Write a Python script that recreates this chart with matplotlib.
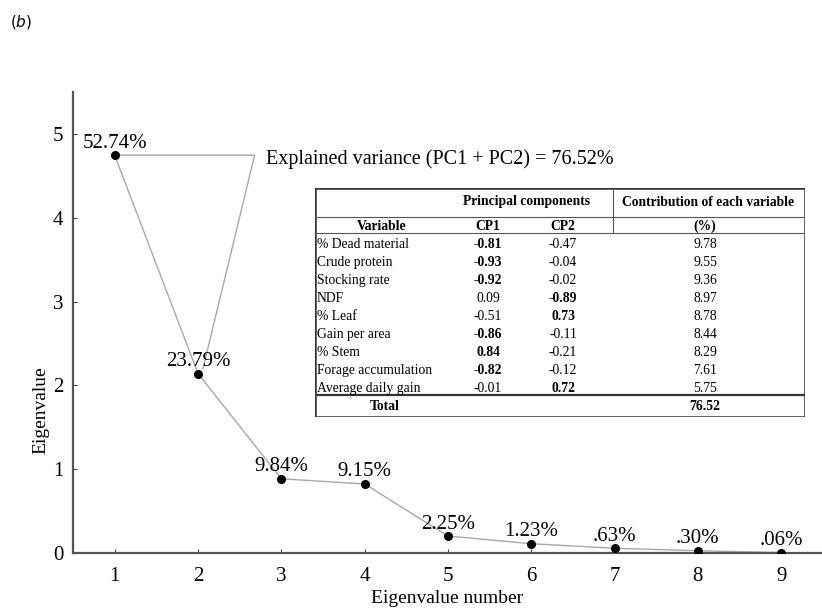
import numpy as np
import matplotlib.pyplot as plt

plt.rcParams['font.family'] = ['Liberation Serif', 'DejaVu Serif']

# scree data: explained variance (%) per principal component
components = [1, 2, 3, 4, 5, 6, 7, 8, 9]
variance_pct = [52.74, 23.79, 9.84, 9.15, 2.25, 1.23, 0.63, 0.30, 0.06]
pct_labels = ['52.74%', '23.79%', '9.84%', '9.15%', '2.25%', '1.23%', '.63%', '.30%', '.06%']
n_vars = 9
eigen = np.array(variance_pct) * n_vars / 100

# loadings table
variables = ['% Dead material', 'Crude protein', 'Stocking rate', 'NDF', '% Leaf',
             'Gain per area', '% Stem', 'Forage accumulation', 'Average daily gain']
cp1 = [-0.81, -0.93, -0.92, 0.09, -0.51, -0.86, 0.84, -0.82, -0.01]
cp2 = [-0.47, -0.04, -0.02, -0.89, 0.73, -0.11, -0.21, -0.12, 0.72]
contrib = [9.78, 9.55, 9.36, 8.97, 8.78, 8.44, 8.29, 7.61, 5.75]
total = 76.52

fig = plt.figure(figsize=(8.22, 6.11), dpi=100)
ax = fig.add_axes([73/822, 58/611, (822-73)/822, (553-92)/611])

line_c = '#a8a8a8'
ax.plot(components, eigen, color=line_c, lw=1.0, zorder=2)
ax.plot(components, eigen, 'o', color='black', ms=5.5, zorder=3)
for x, y, s in zip(components, eigen, pct_labels):
    ax.text(x, y + 0.03, s, ha='center', va='bottom', fontsize=15)

# bracket for PC1 + PC2
ax.plot([components[0], 2.68, 2.06], [eigen[0], eigen[0], 2.2], color=line_c, lw=1.0, zorder=2)
ax.text(2.82, eigen[0] - 0.05, 'Explained variance (PC1 + PC2) = %.2f%%' % total,
        ha='left', va='center', fontsize=14.5)

ax.set_xlim(0.5, 9.49)
ax.set_ylim(0, 5.5)
ax.set_xticks(components)
ax.set_yticks([0, 1, 2, 3, 4, 5])
ax.tick_params(direction='in', length=3, labelsize=15, color='#444444')
ax.tick_params(axis='x', pad=10)
ax.tick_params(axis='y', pad=7)
for side in ['top', 'right']:
    ax.spines[side].set_visible(False)
for side in ['left', 'bottom']:
    ax.spines[side].set_linewidth(1.6)
    ax.spines[side].set_color('#555555')
ax.set_xlabel('Eigenvalue number', fontsize=14, labelpad=3)
ax.set_ylabel('Eigenvalue', fontsize=14)
ax.yaxis.set_label_coords(-0.032, 0.31)

fig.text(10/822, 1 - 22/611, '($\\it{b}$)', fontsize=11, family='DejaVu Sans', va='center')

# table drawn in pixel-like coordinates
tw, th = 805 - 315, 417 - 188
tax = fig.add_axes([315/822, 1 - 417/611, tw/822, th/611])
tax.set_xlim(0, tw)
tax.set_ylim(th, 0)
tax.axis('off')
tax.add_patch(plt.Rectangle((0, 0), tw, th, fill=True, facecolor='white',
                            edgecolor='#333333', lw=1.8, zorder=0))
tax.plot([0, tw], [29, 29], color='#555555', lw=0.8)
tax.plot([0, tw], [45, 45], color='#555555', lw=0.8)
tax.plot([298, 298], [0, 45], color='#555555', lw=0.8)
tax.plot([0, tw], [207, 207], color='#333333', lw=1.6)

fs = 9.8
c_var, c1, c2, c3 = 67, 173, 248, 390
tax.text(212, 14, 'Principal components', ha='center', va='center', fontsize=fs, weight='bold')
tax.text(393, 14, 'Contribution of each variable', ha='center', va='center', fontsize=fs, weight='bold')
tax.text(c_var, 38, 'Variable', ha='center', va='center', fontsize=fs, weight='bold')
tax.text(c1, 38, 'CP1', ha='center', va='center', fontsize=fs, weight='bold')
tax.text(c2, 38, 'CP2', ha='center', va='center', fontsize=fs, weight='bold')
tax.text(c3, 38, '(%)', ha='center', va='center', fontsize=fs, weight='bold')

for i, (v, a, b, c) in enumerate(zip(variables, cp1, cp2, contrib)):
    y = 56 + i * 18.1
    tax.text(2, y, v, ha='left', va='center', fontsize=fs)
    tax.text(c1, y, '%.2f' % a, ha='center', va='center', fontsize=fs,
             weight='bold' if abs(a) >= 0.7 else 'normal')
    tax.text(c2, y, '%.2f' % b, ha='center', va='center', fontsize=fs,
             weight='bold' if abs(b) >= 0.7 else 'normal')
    tax.text(c3, y, '%.2f' % c, ha='center', va='center', fontsize=fs)
tax.text(70, 219, 'Total', ha='center', va='center', fontsize=fs, weight='bold')
tax.text(c3, 219, '%.2f' % total, ha='center', va='center', fontsize=fs, weight='bold')

fig.savefig('out.png', dpi=100)
